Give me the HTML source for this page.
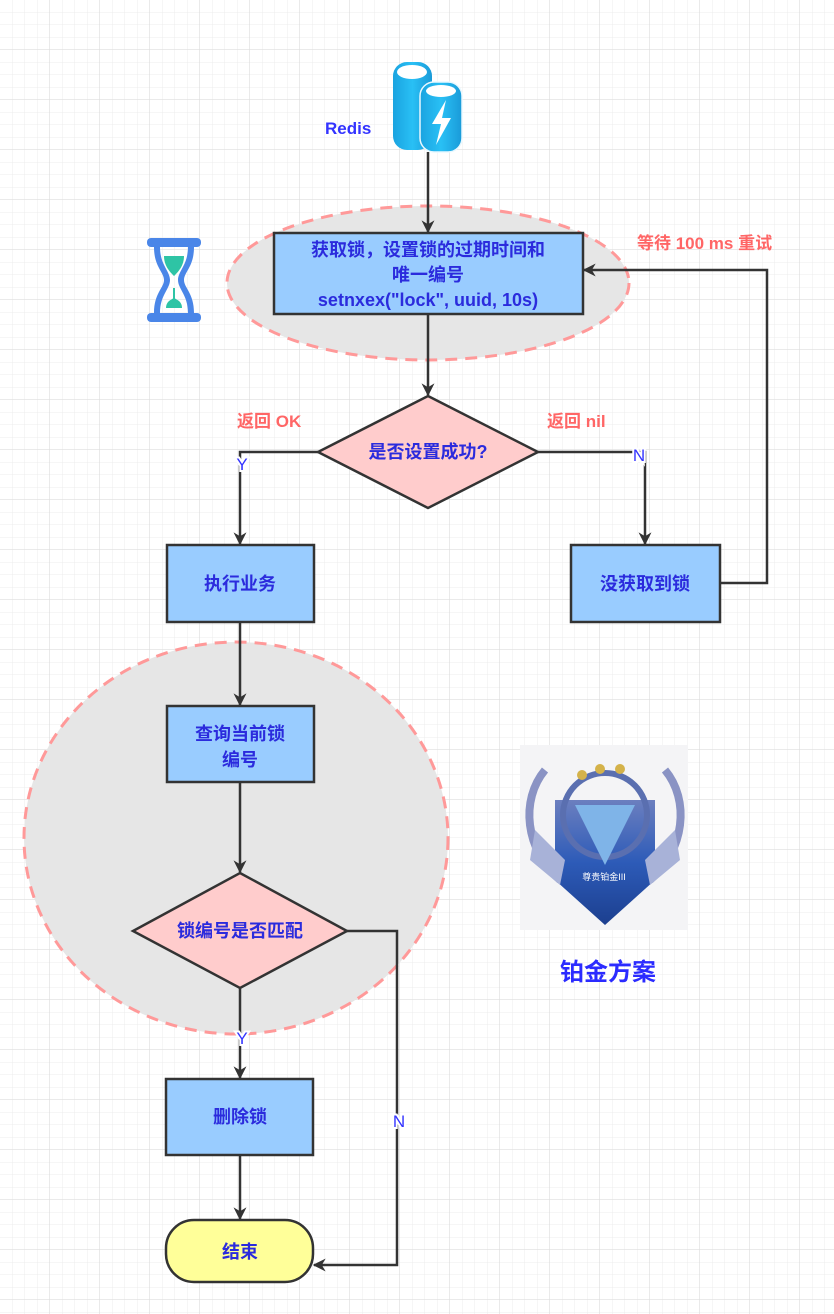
<!DOCTYPE html>
<html><head><meta charset="utf-8"><style>
html,body{margin:0;padding:0;background:#fff}
svg{display:block}
text{font-family:"Liberation Sans","Noto Sans CJK SC",sans-serif}
</style></head><body>
<svg width="834" height="1314" viewBox="0 0 834 1314" xmlns="http://www.w3.org/2000/svg">
<defs>
<pattern id="g" width="12.5" height="12.5" patternUnits="userSpaceOnUse"><path d="M12.5 0V12.5H0" fill="none" stroke="#ececec" stroke-width="1"/></pattern>
<pattern id="G" width="50" height="50" patternUnits="userSpaceOnUse"><rect width="50" height="50" fill="url(#g)"/><path d="M50 0V50H0" fill="none" stroke="#dedede" stroke-width="1.3"/></pattern>
<marker id="b" viewBox="0 0 10 10" refX="9" refY="5" markerWidth="13" markerHeight="13" orient="auto" markerUnits="userSpaceOnUse"><path d="M0 0L10 5L0 10L3 5z" fill="#333"/></marker>
<linearGradient id="cy" x1="0" x2="1"><stop offset="0" stop-color="#1aa3e0"/><stop offset=".5" stop-color="#29c0f5"/><stop offset="1" stop-color="#1a9ad8"/></linearGradient>
<linearGradient id="bd" x1="0" y1="0" x2="0" y2="1"><stop offset="0" stop-color="#6c7fbf"/><stop offset=".5" stop-color="#2d5bb8"/><stop offset="1" stop-color="#1c3f8f"/></linearGradient>
</defs>
<rect width="834" height="1314" fill="url(#G)"/>

<!-- Redis -->
<rect x="393" y="62" width="39" height="88" rx="14" fill="url(#cy)"/>
<ellipse cx="412" cy="72" rx="15" ry="7" fill="#fff"/>
<rect x="420" y="82" width="42" height="70" rx="14" fill="url(#cy)" stroke="#e8f8ff" stroke-width="1.5"/>
<ellipse cx="441" cy="91" rx="15" ry="6" fill="#fff"/>
<path d="M446 100L432 124H441L436 145L451 118H442Z" fill="#fff"/>
<text x="325" y="134" font-size="17" font-weight="bold" fill="#3333ff">Redis</text>

<!-- hourglass -->
<g fill="#4a86e8">
<rect x="147" y="238" width="54" height="9" rx="4"/>
<rect x="147" y="313" width="54" height="9" rx="4"/>
<path d="M154 247h6c0 18 10 24 10 33s-10 15-10 33h-6c0-20 10-25 10-33s-10-13-10-33zM194 247h-6c0 18-10 24-10 33s10 15 10 33h6c0-20-10-25-10-33s10-13 10-33z"/>
</g>
<path d="M164 256h20c0 10-6 16-10 20c-4-4-10-10-10-20z" fill="#2ec4a5"/>
<path d="M166 308h16c0-6-4-8-8-10c-4 2-8 4-8 10z" fill="#2ec4a5"/>
<rect x="173" y="288" width="2" height="12" fill="#2ec4a5"/>

<ellipse cx="428" cy="283" rx="201" ry="77" fill="#e6e6e6" stroke="#ff9999" stroke-width="3" stroke-dasharray="12 8"/>
<ellipse cx="236" cy="838" rx="212" ry="196" fill="#e6e6e6" stroke="#ff9999" stroke-width="3" stroke-dasharray="12 8"/>

<g stroke="#333" stroke-width="2.5" fill="none">
<path d="M428 152V232" marker-end="url(#b)"/>
<path d="M428 314V395" marker-end="url(#b)"/>
<path d="M318 452H240V544" marker-end="url(#b)"/>
<path d="M538 452H645V544" marker-end="url(#b)"/>
<path d="M720 583H767V270H584" marker-end="url(#b)"/>
<path d="M240 622V705" marker-end="url(#b)"/>
<path d="M240 782V872" marker-end="url(#b)"/>
<path d="M240 988V1078" marker-end="url(#b)"/>
<path d="M240 1155V1219" marker-end="url(#b)"/>
<path d="M347 931H397V1265H314" marker-end="url(#b)"/>
</g>

<g stroke="#333" stroke-width="2.5">
<rect x="274" y="233" width="309" height="81" fill="#99ccff"/>
<path d="M428 396L538 452L428 508L318 452Z" fill="#ffcccc"/>
<rect x="167" y="545" width="147" height="77" fill="#99ccff"/>
<rect x="571" y="545" width="149" height="77" fill="#99ccff"/>
<rect x="167" y="706" width="147" height="76" fill="#99ccff"/>
<path d="M240 873L347 931L240 988L133 931Z" fill="#ffcccc"/>
<rect x="166" y="1079" width="147" height="76" fill="#99ccff"/>
<rect x="166" y="1220" width="147" height="62" rx="28" fill="#ffff99"/>
</g>

<g font-size="18" font-weight="bold" fill="#2b2bdd" text-anchor="middle">
<text x="428" y="256">获取锁，设置锁的过期时间和</text>
<text x="428" y="281">唯一编号</text>
<text x="428" y="306">setnxex("lock", uuid, 10s)</text>
<text x="428" y="458">是否设置成功?</text>
<text x="240" y="590">执行业务</text>
<text x="645" y="590">没获取到锁</text>
<text x="240" y="740">查询当前锁</text>
<text x="240" y="766">编号</text>
<text x="240" y="937">锁编号是否匹配</text>
<text x="240" y="1123">删除锁</text>
<text x="240" y="1258">结束</text>
</g>
<g font-size="17" fill="#ff6666" font-weight="bold">
<text x="237" y="427">返回 OK</text>
<text x="547" y="427">返回 nil</text>
<text x="637" y="249">等待 100 ms 重试</text>
</g>
<g font-size="17" fill="#3333ff" text-anchor="middle">
<text x="242" y="470" style="paint-order:stroke" stroke="#fff" stroke-width="4">Y</text>
<text x="639" y="461" style="paint-order:stroke" stroke="#fff" stroke-width="4">N</text>
<text x="242" y="1044" style="paint-order:stroke" stroke="#fff" stroke-width="4">Y</text>
<text x="399" y="1127" style="paint-order:stroke" stroke="#fff" stroke-width="4">N</text>
</g>

<!-- badge -->
<rect x="520" y="745" width="168" height="185" fill="#f4f4f6"/>
<path d="M545 770C520 800 525 850 560 880" stroke="#8a93c4" stroke-width="8" fill="none"/>
<path d="M665 770C690 800 685 850 650 880" stroke="#8a93c4" stroke-width="8" fill="none"/>
<path d="M555 800H655V880L605 925L555 880Z" fill="url(#bd)"/>
<circle cx="605" cy="815" r="42" fill="none" stroke="#5a6fb0" stroke-width="6"/>
<path d="M575 805H635L605 865Z" fill="#7fb4e8"/>
<path d="M535 830L565 860L560 885L530 860Z" fill="#a8b2d8"/>
<path d="M675 830L645 860L650 885L680 860Z" fill="#a8b2d8"/>
<g fill="#d4b24a"><circle cx="582" cy="775" r="5"/><circle cx="600" cy="769" r="5"/><circle cx="620" cy="769" r="5"/></g>
<text x="604" y="880" font-size="9" fill="#fff" text-anchor="middle">尊贵铂金III</text>
<text x="608" y="980" font-size="24" font-weight="bold" fill="#2b2bff" text-anchor="middle">铂金方案</text>
</svg>
</body></html>
